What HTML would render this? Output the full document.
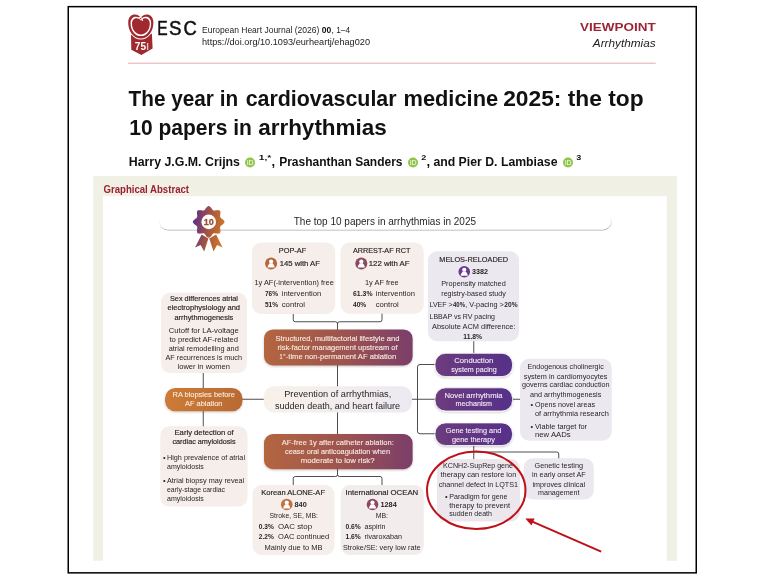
<!DOCTYPE html>
<html lang="en">
<head>
<meta charset="utf-8">
<title>The year in cardiovascular medicine 2025: the top 10 papers in arrhythmias</title>
<style>
html,body{margin:0;padding:0;background:#fff;}
body{width:768px;height:576px;position:relative;overflow:hidden;font-family:"Liberation Sans",sans-serif;color:#111;}
svg.fig{position:absolute;left:0;top:0;}
svg text{font-family:"Liberation Sans",sans-serif;}
</style>
</head>
<body>
<svg class="fig" width="768" height="576" viewBox="0 0 768 576">
<defs>
<linearGradient id="g1" x1="0" y1="0" x2="1" y2="0"><stop offset="0" stop-color="#b36640"/><stop offset="0.55" stop-color="#9c5350"/><stop offset="1" stop-color="#7b3e6a"/></linearGradient>
<linearGradient id="g2" x1="0" y1="0" x2="1" y2="0"><stop offset="0" stop-color="#cc7b37"/><stop offset="1" stop-color="#b96a33"/></linearGradient>
<linearGradient id="g3" x1="0" y1="0" x2="1" y2="0"><stop offset="0" stop-color="#f8f1ea"/><stop offset="1" stop-color="#ece9f1"/></linearGradient>
<linearGradient id="g4" x1="0" y1="0" x2="1" y2="0"><stop offset="0" stop-color="#6c3b7d"/><stop offset="1" stop-color="#563189"/></linearGradient>
<linearGradient id="gb" gradientUnits="userSpaceOnUse" x1="192" y1="222" x2="226" y2="228"><stop offset="0" stop-color="#5a2c92"/><stop offset="0.5" stop-color="#a4553f"/><stop offset="1" stop-color="#d47c28"/></linearGradient>
<filter id="sh" x="-5%" y="-50%" width="110%" height="220%"><feDropShadow dx="0.3" dy="1" stdDeviation="0.7" flood-color="#000" flood-opacity="0.33"/></filter>
<filter id="sh2" x="-10%" y="-30%" width="120%" height="170%"><feDropShadow dx="0" dy="1" stdDeviation="1" flood-color="#000" flood-opacity="0.22"/></filter>
</defs>
<path d="M131 34.6 L151.9 33.8 L152.6 48.6 L141.4 55.1 L131.3 49.8 Z" fill="#a0282f"/>
<path d="M140.80 17.85 C138.66 12.61 127.40 11.57 127.40 22.83 C127.40 31.74 133.03 39.60 140.80 39.60 C148.57 39.60 154.20 31.74 154.20 22.83 C154.20 11.57 142.94 12.61 140.80 17.85 Z" fill="#fff"/>
<path d="M140.80 18.18 C138.78 13.26 128.20 12.28 128.20 22.86 C128.20 31.22 133.49 38.60 140.80 38.60 C148.11 38.60 153.40 31.22 153.40 22.86 C153.40 12.28 142.82 13.26 140.80 18.18 Z" fill="#a0282f"/>
<path d="M140.85 19.67 C139.20 15.71 130.55 14.91 130.55 23.43 C130.55 30.16 134.88 36.10 140.85 36.10 C146.82 36.10 151.15 30.16 151.15 23.43 C151.15 14.91 142.50 15.71 140.85 19.67 Z" fill="#fff"/>
<path d="M140.90 20.56 C139.48 17.20 132.00 16.52 132.00 23.75 C132.00 29.46 135.74 34.50 140.90 34.50 C146.06 34.50 149.80 29.46 149.80 23.75 C149.80 16.52 142.32 17.20 140.90 20.56 Z" fill="#a0282f"/>
<path d="M139.0 17.4 Q141.6 16.6 142.4 19.4" fill="none" stroke="#fff" stroke-width="1.0" stroke-linecap="round"/>
<circle cx="142.3" cy="20.2" r="0.8" fill="#fff"/>
<text x="134.80" y="50.10" font-size="11.2" font-weight="bold" fill="#fff" textLength="11.20" lengthAdjust="spacingAndGlyphs">75</text>
<rect x="146.9" y="43" width="1.4" height="7" fill="#e3bfc1"/>
<text x="157.20" y="34.60" font-size="20.4" fill="#111" textLength="10.40" lengthAdjust="spacingAndGlyphs" stroke="#111" stroke-width="0.5">E</text>
<text x="169.00" y="34.60" font-size="20.4" fill="#111" textLength="12.50" lengthAdjust="spacingAndGlyphs" stroke="#111" stroke-width="0.5">S</text>
<text x="183.60" y="34.60" font-size="20.4" fill="#111" textLength="13.30" lengthAdjust="spacingAndGlyphs" stroke="#111" stroke-width="0.5">C</text>
<text x="202.00" y="33.00" font-size="8.3" fill="#222" textLength="117.25" lengthAdjust="spacingAndGlyphs">European Heart Journal (2026)</text>
<text x="321.75" y="33.00" font-size="8.3" font-weight="bold" fill="#111" textLength="9.50" lengthAdjust="spacingAndGlyphs">00</text>
<text x="331.60" y="33.00" font-size="8.3" fill="#222" textLength="18.40" lengthAdjust="spacingAndGlyphs">, 1–4</text>
<text x="202.00" y="44.50" font-size="8.3" fill="#222" textLength="168.00" lengthAdjust="spacingAndGlyphs">https://doi.org/10.1093/eurheartj/ehag020</text>
<text x="580.00" y="30.70" font-size="11.8" font-weight="bold" fill="#9b2335" textLength="75.70" lengthAdjust="spacingAndGlyphs">VIEWPOINT</text>
<text x="592.80" y="47.40" font-size="11.6" font-style="italic" fill="#222" textLength="62.90" lengthAdjust="spacingAndGlyphs">Arrhythmias</text>
<rect x="128" y="62.7" width="527.7" height="1" fill="#e2abae"/>
<text x="128.60" y="106.25" font-size="21.4" font-weight="bold" fill="#111" textLength="109.50" lengthAdjust="spacingAndGlyphs">The year in</text>
<text x="245.65" y="106.25" font-size="21.4" font-weight="bold" fill="#111" textLength="150.95" lengthAdjust="spacingAndGlyphs">cardiovascular</text>
<text x="403.50" y="106.25" font-size="21.4" font-weight="bold" fill="#111" textLength="94.60" lengthAdjust="spacingAndGlyphs">medicine</text>
<text x="503.15" y="106.25" font-size="21.4" font-weight="bold" fill="#111" textLength="140.45" lengthAdjust="spacingAndGlyphs">2025: the top</text>
<text x="129.20" y="135.40" font-size="21.4" font-weight="bold" fill="#111" textLength="122.65" lengthAdjust="spacingAndGlyphs">10 papers in</text>
<text x="258.15" y="135.40" font-size="21.4" font-weight="bold" fill="#111" textLength="128.70" lengthAdjust="spacingAndGlyphs">arrhythmias</text>
<text x="128.75" y="166.25" font-size="13" font-weight="bold" fill="#111" textLength="111.25" lengthAdjust="spacingAndGlyphs">Harry J.G.M. Crijns</text>
<circle cx="250" cy="162.5" r="5" fill="#8fc549"/>
<text x="246.90" y="165.00" font-size="7" fill="#fff" textLength="6.60" lengthAdjust="spacingAndGlyphs">iD</text>
<text x="258.75" y="160.40" font-size="8" font-weight="bold" fill="#111" textLength="12.50" lengthAdjust="spacingAndGlyphs">1,*</text>
<text x="271.60" y="166.25" font-size="13" font-weight="bold" fill="#111">,</text>
<text x="279.20" y="166.25" font-size="13" font-weight="bold" fill="#111" textLength="123.30" lengthAdjust="spacingAndGlyphs">Prashanthan Sanders</text>
<circle cx="413" cy="162.5" r="5" fill="#8fc549"/>
<text x="409.90" y="165.00" font-size="7" fill="#fff" textLength="6.60" lengthAdjust="spacingAndGlyphs">iD</text>
<text x="421.25" y="160.40" font-size="8" font-weight="bold" fill="#111" textLength="5.00" lengthAdjust="spacingAndGlyphs">2</text>
<text x="426.40" y="166.25" font-size="13" font-weight="bold" fill="#111">,</text>
<text x="433.40" y="166.25" font-size="13" font-weight="bold" fill="#111" textLength="124.10" lengthAdjust="spacingAndGlyphs">and Pier D. Lambiase</text>
<circle cx="568" cy="162.5" r="5" fill="#8fc549"/>
<text x="564.90" y="165.00" font-size="7" fill="#fff" textLength="6.60" lengthAdjust="spacingAndGlyphs">iD</text>
<text x="576.25" y="160.40" font-size="8" font-weight="bold" fill="#111" textLength="5.00" lengthAdjust="spacingAndGlyphs">3</text>
<rect x="68.25" y="6.65" width="628" height="566.2" fill="none" stroke="#000" stroke-width="1.5"/>
<rect x="93.25" y="176" width="583.75" height="384.75" fill="#f0f0e4"/>
<rect x="103" y="196.2" width="563.75" height="365" fill="#ffffff"/>
<text x="103.50" y="192.80" font-size="10.5" font-weight="bold" fill="#9c2030" textLength="85.50" lengthAdjust="spacingAndGlyphs">Graphical Abstract</text>
<rect x="159.5" y="213" width="451.5" height="16.5" rx="8.25" fill="#fff" filter="url(#sh)"/>
<text x="293.75" y="224.85" font-size="10.2" fill="#231f20" textLength="182.25" lengthAdjust="spacingAndGlyphs">The top 10 papers in arrhythmias in 2025</text>
<path d="M208.70 206.70 L209.19 206.89 L209.66 207.21 L210.11 207.61 L210.52 208.06 L210.91 208.54 L211.26 209.01 L211.60 209.46 L211.92 209.88 L212.23 210.26 L212.55 210.57 L212.87 210.82 L213.22 211.00 L213.59 211.11 L213.99 211.17 L214.44 211.17 L214.92 211.13 L215.44 211.06 L216.00 210.97 L216.59 210.89 L217.20 210.83 L217.81 210.80 L218.41 210.83 L218.97 210.94 L219.45 211.15 L219.66 211.63 L219.77 212.19 L219.80 212.79 L219.77 213.40 L219.71 214.01 L219.63 214.60 L219.54 215.16 L219.47 215.68 L219.43 216.16 L219.43 216.61 L219.49 217.01 L219.60 217.38 L219.78 217.73 L220.03 218.05 L220.34 218.37 L220.72 218.68 L221.14 219.00 L221.59 219.34 L222.06 219.69 L222.54 220.08 L222.99 220.49 L223.39 220.94 L223.71 221.41 L223.90 221.90 L223.71 222.39 L223.39 222.86 L222.99 223.31 L222.54 223.72 L222.06 224.11 L221.59 224.46 L221.14 224.80 L220.72 225.12 L220.34 225.43 L220.03 225.75 L219.78 226.07 L219.60 226.42 L219.49 226.79 L219.43 227.19 L219.43 227.64 L219.47 228.12 L219.54 228.64 L219.63 229.20 L219.71 229.79 L219.77 230.40 L219.80 231.01 L219.77 231.61 L219.66 232.17 L219.45 232.65 L218.97 232.86 L218.41 232.97 L217.81 233.00 L217.20 232.97 L216.59 232.91 L216.00 232.83 L215.44 232.74 L214.92 232.67 L214.44 232.63 L213.99 232.63 L213.59 232.69 L213.22 232.80 L212.87 232.98 L212.55 233.23 L212.23 233.54 L211.92 233.92 L211.60 234.34 L211.26 234.79 L210.91 235.26 L210.52 235.74 L210.11 236.19 L209.66 236.59 L209.19 236.91 L208.70 237.10 L208.21 236.91 L207.74 236.59 L207.29 236.19 L206.88 235.74 L206.49 235.26 L206.14 234.79 L205.80 234.34 L205.48 233.92 L205.17 233.54 L204.85 233.23 L204.53 232.98 L204.18 232.80 L203.81 232.69 L203.41 232.63 L202.96 232.63 L202.48 232.67 L201.96 232.74 L201.40 232.83 L200.81 232.91 L200.20 232.97 L199.59 233.00 L198.99 232.97 L198.43 232.86 L197.95 232.65 L197.74 232.17 L197.63 231.61 L197.60 231.01 L197.63 230.40 L197.69 229.79 L197.77 229.20 L197.86 228.64 L197.93 228.12 L197.97 227.64 L197.97 227.19 L197.91 226.79 L197.80 226.42 L197.62 226.07 L197.37 225.75 L197.06 225.43 L196.68 225.12 L196.26 224.80 L195.81 224.46 L195.34 224.11 L194.86 223.72 L194.41 223.31 L194.01 222.86 L193.69 222.39 L193.50 221.90 L193.69 221.41 L194.01 220.94 L194.41 220.49 L194.86 220.08 L195.34 219.69 L195.81 219.34 L196.26 219.00 L196.68 218.68 L197.06 218.37 L197.37 218.05 L197.62 217.73 L197.80 217.38 L197.91 217.01 L197.97 216.61 L197.97 216.16 L197.93 215.68 L197.86 215.16 L197.77 214.60 L197.69 214.01 L197.63 213.40 L197.60 212.79 L197.63 212.19 L197.74 211.63 L197.95 211.15 L198.43 210.94 L198.99 210.83 L199.59 210.80 L200.20 210.83 L200.81 210.89 L201.40 210.97 L201.96 211.06 L202.48 211.13 L202.96 211.17 L203.41 211.17 L203.81 211.11 L204.18 211.00 L204.53 210.82 L204.85 210.57 L205.17 210.26 L205.48 209.88 L205.80 209.46 L206.14 209.01 L206.49 208.54 L206.88 208.06 L207.29 207.61 L207.74 207.21 L208.21 206.89 Z" fill="url(#gb)" stroke="url(#gb)" stroke-width="1.3" stroke-linejoin="round"/>
<path d="M201.6 234.6 L195.1 247.4 L200.6 245.0 L204.2 251.6 L208.4 238.6 Z" fill="url(#gb)"/>
<path d="M216.1 234.6 L222.6 247.4 L217.1 245.0 L213.5 251.6 L209.3 238.6 Z" fill="url(#gb)"/>
<circle cx="208.7" cy="221.9" r="7.3" fill="#fff"/>
<text x="203.80" y="224.70" font-size="8.7" font-weight="bold" fill="#9a5136" textLength="10.00" lengthAdjust="spacingAndGlyphs" stroke="#9a5136" stroke-width="0.3">10</text>
<path d="M293.25 313 V319.75 Q293.25 321.75 295.25 321.75 H335.5 Q337.5 321.75 337.5 323.75 Q337.5 321.75 339.5 321.75 H380 Q382 321.75 382 319.75 V313" fill="none" stroke="#3a3a3a" stroke-width="0.9" stroke-linejoin="round"/>
<path d="M337.5 323 V331" fill="none" stroke="#3a3a3a" stroke-width="0.9" stroke-linejoin="round"/>
<path d="M337.5 364 V388" fill="none" stroke="#3a3a3a" stroke-width="0.9" stroke-linejoin="round"/>
<path d="M337.5 411 V436" fill="none" stroke="#3a3a3a" stroke-width="0.9" stroke-linejoin="round"/>
<path d="M337.5 468 V474.5 Q337.5 476.5 335.5 476.5 H295.25 Q293.25 476.5 293.25 478.5 V486" fill="none" stroke="#3a3a3a" stroke-width="0.9" stroke-linejoin="round"/>
<path d="M337.5 474.5 Q337.5 476.5 339.5 476.5 H380 Q382 476.5 382 478.5 V486" fill="none" stroke="#3a3a3a" stroke-width="0.9" stroke-linejoin="round"/>
<path d="M203.25 372 V389" fill="none" stroke="#3a3a3a" stroke-width="0.9" stroke-linejoin="round"/>
<path d="M203.25 410 V427" fill="none" stroke="#3a3a3a" stroke-width="0.9" stroke-linejoin="round"/>
<path d="M241 399.25 H265" fill="none" stroke="#3a3a3a" stroke-width="0.9" stroke-linejoin="round"/>
<path d="M411 399.25 H436" fill="none" stroke="#3a3a3a" stroke-width="0.9" stroke-linejoin="round"/>
<path d="M436 364.5 H420 Q417.5 364.5 417.5 367 V431.25 Q417.5 433.75 420 433.75 H436" fill="none" stroke="#3a3a3a" stroke-width="0.9" stroke-linejoin="round"/>
<path d="M473.75 340 V355" fill="none" stroke="#3a3a3a" stroke-width="0.9" stroke-linejoin="round"/>
<path d="M511 399.25 H521" fill="none" stroke="#3a3a3a" stroke-width="0.9" stroke-linejoin="round"/>
<path d="M473.75 444 V460" fill="none" stroke="#3a3a3a" stroke-width="0.9" stroke-linejoin="round"/>
<path d="M473.75 452 H556.75 Q558.75 452 558.75 454 V459" fill="none" stroke="#3a3a3a" stroke-width="0.9" stroke-linejoin="round"/>
<rect x="252.0" y="242.4" width="83.20" height="71.50" rx="9" fill="#f6eeea"/>
<text x="278.75" y="253.30" font-size="7.8" fill="#231f20" textLength="27.50" lengthAdjust="spacingAndGlyphs" stroke="#231f20" stroke-width="0.17">POP-AF</text>
<g><circle cx="271.1" cy="263.5" r="6" fill="#b9653a"/><circle cx="271.1" cy="261.50" r="2.1" fill="#fff"/><path d="M267.60 267.40 C267.60 264.90 269.00 264.50 269.60 263.20 L272.60 263.20 C273.20 264.50 274.60 264.90 274.60 267.40 Z" fill="#fff"/></g>
<text x="279.70" y="266.10" font-size="7.8" fill="#231f20" textLength="40.30" lengthAdjust="spacingAndGlyphs" stroke="#231f20" stroke-width="0.17">145 with AF</text>
<text x="254.50" y="284.80" font-size="7.8" fill="#231f20" textLength="79.25" lengthAdjust="spacingAndGlyphs">1y AF(-intervention) free</text>
<text x="265.00" y="295.80" font-size="7.8" font-weight="bold" fill="#231f20" textLength="13.00" lengthAdjust="spacingAndGlyphs">76%</text>
<text x="281.75" y="295.80" font-size="7.8" fill="#231f20" textLength="39.50" lengthAdjust="spacingAndGlyphs">intervention</text>
<text x="265.00" y="307.30" font-size="7.8" font-weight="bold" fill="#231f20" textLength="13.00" lengthAdjust="spacingAndGlyphs">51%</text>
<text x="281.75" y="307.30" font-size="7.8" fill="#231f20" textLength="23.25" lengthAdjust="spacingAndGlyphs">control</text>
<rect x="340.5" y="242.5" width="83.25" height="71.25" rx="9" fill="#f6eeea"/>
<text x="353.00" y="253.30" font-size="7.8" fill="#231f20" textLength="57.50" lengthAdjust="spacingAndGlyphs" stroke="#231f20" stroke-width="0.17">ARREST-AF RCT</text>
<g><circle cx="361.3" cy="263.5" r="6" fill="#8b4a61"/><circle cx="361.3" cy="261.50" r="2.1" fill="#fff"/><path d="M357.80 267.40 C357.80 264.90 359.20 264.50 359.80 263.20 L362.80 263.20 C363.40 264.50 364.80 264.90 364.80 267.40 Z" fill="#fff"/></g>
<text x="368.75" y="266.10" font-size="7.8" fill="#231f20" textLength="40.75" lengthAdjust="spacingAndGlyphs" stroke="#231f20" stroke-width="0.17">122 with AF</text>
<text x="365.00" y="284.80" font-size="7.8" fill="#231f20" textLength="33.75" lengthAdjust="spacingAndGlyphs">1y AF free</text>
<text x="353.00" y="295.80" font-size="7.8" font-weight="bold" fill="#231f20" textLength="19.50" lengthAdjust="spacingAndGlyphs">61.3%</text>
<text x="375.75" y="295.80" font-size="7.8" fill="#231f20" textLength="39.25" lengthAdjust="spacingAndGlyphs">intervention</text>
<text x="353.00" y="307.30" font-size="7.8" font-weight="bold" fill="#231f20" textLength="13.25" lengthAdjust="spacingAndGlyphs">40%</text>
<text x="375.75" y="307.30" font-size="7.8" fill="#231f20" textLength="23.00" lengthAdjust="spacingAndGlyphs">control</text>
<rect x="428" y="251.25" width="91.00" height="90.00" rx="9" fill="#ece8ef"/>
<text x="439.25" y="262.05" font-size="7.8" fill="#231f20" textLength="68.75" lengthAdjust="spacingAndGlyphs" stroke="#231f20" stroke-width="0.17">MELOS-RELOADED</text>
<g><circle cx="464.25" cy="271.75" r="5.8" fill="#6b3a8c"/><circle cx="464.25" cy="269.75" r="2.1" fill="#fff"/><path d="M460.75 275.65 C460.75 273.15 462.15 272.75 462.75 271.45 L465.75 271.45 C466.35 272.75 467.75 273.15 467.75 275.65 Z" fill="#fff"/></g>
<text x="472.00" y="274.00" font-size="7.8" font-weight="bold" fill="#231f20" textLength="16.00" lengthAdjust="spacingAndGlyphs">3382</text>
<text x="441.25" y="285.90" font-size="7.8" fill="#231f20" textLength="64.50" lengthAdjust="spacingAndGlyphs">Propensity matched</text>
<text x="441.25" y="295.90" font-size="7.8" fill="#231f20" textLength="64.50" lengthAdjust="spacingAndGlyphs">registry-based study</text>
<text x="429.50" y="307.30" font-size="7.8" fill="#231f20" textLength="23.10" lengthAdjust="spacingAndGlyphs">LVEF &gt;</text>
<text x="453.00" y="307.30" font-size="7.8" font-weight="bold" fill="#231f20" textLength="12.00" lengthAdjust="spacingAndGlyphs">40%</text>
<text x="465.20" y="307.30" font-size="7.8" fill="#231f20" textLength="38.70" lengthAdjust="spacingAndGlyphs">, V-pacing &gt;</text>
<text x="504.30" y="307.30" font-size="7.8" font-weight="bold" fill="#231f20" textLength="13.20" lengthAdjust="spacingAndGlyphs">20%</text>
<text x="429.50" y="318.70" font-size="7.8" fill="#231f20" textLength="65.50" lengthAdjust="spacingAndGlyphs">LBBAP vs RV pacing</text>
<text x="432.00" y="329.40" font-size="7.8" fill="#231f20" textLength="83.50" lengthAdjust="spacingAndGlyphs">Absolute ACM difference:</text>
<text x="463.25" y="338.70" font-size="7.8" font-weight="bold" fill="#231f20" textLength="18.75" lengthAdjust="spacingAndGlyphs">11.8%</text>
<rect x="161" y="292.5" width="86.00" height="80.50" rx="9" fill="#f6eeea"/>
<text x="170.00" y="301.00" font-size="7.8" fill="#231f20" textLength="68.00" lengthAdjust="spacingAndGlyphs" stroke="#231f20" stroke-width="0.17">Sex differences atrial</text>
<text x="167.50" y="310.40" font-size="7.8" fill="#231f20" textLength="72.50" lengthAdjust="spacingAndGlyphs" stroke="#231f20" stroke-width="0.17">electrophysiology and</text>
<text x="174.50" y="320.30" font-size="7.8" fill="#231f20" textLength="58.75" lengthAdjust="spacingAndGlyphs" stroke="#231f20" stroke-width="0.17">arrhythmogenesis</text>
<text x="168.75" y="333.30" font-size="7.8" fill="#231f20" textLength="70.00" lengthAdjust="spacingAndGlyphs">Cutoff for LA-voltage</text>
<text x="169.50" y="342.30" font-size="7.8" fill="#231f20" textLength="68.50" lengthAdjust="spacingAndGlyphs">to predict AF-related</text>
<text x="168.75" y="350.80" font-size="7.8" fill="#231f20" textLength="70.00" lengthAdjust="spacingAndGlyphs">atrial remodelling and</text>
<text x="165.50" y="360.30" font-size="7.8" fill="#231f20" textLength="76.50" lengthAdjust="spacingAndGlyphs">AF recurrences is much</text>
<text x="177.50" y="369.00" font-size="7.8" fill="#231f20" textLength="52.50" lengthAdjust="spacingAndGlyphs">lower in women</text>
<rect x="264.0" y="329.4" width="148.60" height="36.10" rx="9" fill="url(#g1)" filter="url(#sh2)"/>
<text x="275.50" y="341.00" font-size="7.8" fill="#f7eadf" textLength="124.00" lengthAdjust="spacingAndGlyphs" stroke="#f7eadf" stroke-width="0.12">Structured, multifactorial lifestyle and</text>
<text x="277.50" y="350.30" font-size="7.8" fill="#f7eadf" textLength="120.00" lengthAdjust="spacingAndGlyphs" stroke="#f7eadf" stroke-width="0.12">risk-factor management upstream of</text>
<text x="279.50" y="359.00" font-size="7.8" fill="#f7eadf" textLength="3.10" lengthAdjust="spacingAndGlyphs" stroke="#f7eadf" stroke-width="0.12">1</text>
<text x="282.70" y="355.50" font-size="4.2" fill="#f7eadf" textLength="2.90" lengthAdjust="spacingAndGlyphs">st</text>
<text x="285.80" y="359.00" font-size="7.8" fill="#f7eadf" textLength="110.45" lengthAdjust="spacingAndGlyphs" stroke="#f7eadf" stroke-width="0.12">-time non-permanent AF ablation</text>
<rect x="165" y="388" width="77.50" height="23.25" rx="10.5" fill="url(#g2)" filter="url(#sh2)"/>
<text x="172.50" y="397.30" font-size="7.8" fill="#fbeee0" textLength="62.50" lengthAdjust="spacingAndGlyphs" stroke="#fbeee0" stroke-width="0.1">RA biopsies before</text>
<text x="185.00" y="406.30" font-size="7.8" fill="#fbeee0" textLength="37.50" lengthAdjust="spacingAndGlyphs" stroke="#fbeee0" stroke-width="0.1">AF ablation</text>
<rect x="263.75" y="386.25" width="148.25" height="26.25" rx="10" fill="url(#g3)"/>
<text x="284.25" y="397.05" font-size="9.6" fill="#231f20" textLength="107.00" lengthAdjust="spacingAndGlyphs">Prevention of arrhythmias,</text>
<text x="275.00" y="408.80" font-size="9.6" fill="#231f20" textLength="125.00" lengthAdjust="spacingAndGlyphs">sudden death, and heart failure</text>
<rect x="160.3" y="426.25" width="87.20" height="80.35" rx="9" fill="#f6eeea"/>
<text x="174.50" y="435.40" font-size="7.8" fill="#231f20" textLength="59.25" lengthAdjust="spacingAndGlyphs" stroke="#231f20" stroke-width="0.17">Early detection of</text>
<text x="172.50" y="444.40" font-size="7.8" fill="#231f20" textLength="63.00" lengthAdjust="spacingAndGlyphs" stroke="#231f20" stroke-width="0.17">cardiac amyloidosis</text>
<text x="163.00" y="460.30" font-size="7.8" fill="#231f20" textLength="2.60" lengthAdjust="spacingAndGlyphs">•</text>
<text x="167.00" y="460.30" font-size="7.8" fill="#231f20" textLength="78.00" lengthAdjust="spacingAndGlyphs">High prevalence of atrial</text>
<text x="167.00" y="469.00" font-size="7.8" fill="#231f20" textLength="36.75" lengthAdjust="spacingAndGlyphs">amyloidosis</text>
<text x="163.00" y="483.00" font-size="7.8" fill="#231f20" textLength="2.60" lengthAdjust="spacingAndGlyphs">•</text>
<text x="167.00" y="483.00" font-size="7.8" fill="#231f20" textLength="77.25" lengthAdjust="spacingAndGlyphs">Atrial biopsy may reveal</text>
<text x="167.00" y="492.30" font-size="7.8" fill="#231f20" textLength="58.00" lengthAdjust="spacingAndGlyphs">early-stage cardiac</text>
<text x="167.00" y="501.30" font-size="7.8" fill="#231f20" textLength="36.75" lengthAdjust="spacingAndGlyphs">amyloidosis</text>
<rect x="264.0" y="434.1" width="148.60" height="35.10" rx="9" fill="url(#g1)" filter="url(#sh2)"/>
<text x="281.75" y="444.90" font-size="7.8" fill="#f7eadf" textLength="112.00" lengthAdjust="spacingAndGlyphs" stroke="#f7eadf" stroke-width="0.12">AF-free 1y after catheter ablation:</text>
<text x="285.00" y="454.00" font-size="7.8" fill="#f7eadf" textLength="105.00" lengthAdjust="spacingAndGlyphs" stroke="#f7eadf" stroke-width="0.12">cease oral anticoagulation when</text>
<text x="300.75" y="462.90" font-size="7.8" fill="#f7eadf" textLength="73.75" lengthAdjust="spacingAndGlyphs" stroke="#f7eadf" stroke-width="0.12">moderate to low risk?</text>
<rect x="252.5" y="485" width="82.00" height="70.00" rx="9" fill="#f6eeea"/>
<text x="261.25" y="495.30" font-size="7.8" fill="#231f20" textLength="63.75" lengthAdjust="spacingAndGlyphs" stroke="#231f20" stroke-width="0.17">Korean ALONE-AF</text>
<g><circle cx="286.75" cy="504.5" r="5.8" fill="#c07042"/><circle cx="286.75" cy="502.50" r="2.1" fill="#fff"/><path d="M283.25 508.40 C283.25 505.90 284.65 505.50 285.25 504.20 L288.25 504.20 C288.85 505.50 290.25 505.90 290.25 508.40 Z" fill="#fff"/></g>
<text x="294.50" y="507.30" font-size="7.8" font-weight="bold" fill="#231f20" textLength="12.25" lengthAdjust="spacingAndGlyphs">840</text>
<text x="269.50" y="518.30" font-size="7.8" fill="#231f20" textLength="48.50" lengthAdjust="spacingAndGlyphs">Stroke, SE, MB:</text>
<text x="258.75" y="529.40" font-size="7.8" font-weight="bold" fill="#231f20" textLength="15.00" lengthAdjust="spacingAndGlyphs">0.3%</text>
<text x="278.00" y="529.40" font-size="7.8" fill="#231f20" textLength="34.00" lengthAdjust="spacingAndGlyphs">OAC stop</text>
<text x="258.75" y="539.40" font-size="7.8" font-weight="bold" fill="#231f20" textLength="15.00" lengthAdjust="spacingAndGlyphs">2.2%</text>
<text x="278.00" y="539.40" font-size="7.8" fill="#231f20" textLength="51.25" lengthAdjust="spacingAndGlyphs">OAC continued</text>
<text x="264.50" y="549.90" font-size="7.8" fill="#231f20" textLength="58.00" lengthAdjust="spacingAndGlyphs">Mainly due to MB</text>
<rect x="340.75" y="485" width="83.00" height="70.00" rx="9" fill="#f3ecec"/>
<text x="345.50" y="495.30" font-size="7.8" fill="#231f20" textLength="72.75" lengthAdjust="spacingAndGlyphs" stroke="#231f20" stroke-width="0.17">International OCEAN</text>
<g><circle cx="372.5" cy="504.5" r="5.8" fill="#8c4a62"/><circle cx="372.5" cy="502.50" r="2.1" fill="#fff"/><path d="M369.00 508.40 C369.00 505.90 370.40 505.50 371.00 504.20 L374.00 504.20 C374.60 505.50 376.00 505.90 376.00 508.40 Z" fill="#fff"/></g>
<text x="380.50" y="507.30" font-size="7.8" font-weight="bold" fill="#231f20" textLength="16.25" lengthAdjust="spacingAndGlyphs">1284</text>
<text x="375.75" y="518.30" font-size="7.8" fill="#231f20" textLength="12.25" lengthAdjust="spacingAndGlyphs">MB:</text>
<text x="345.50" y="529.40" font-size="7.8" font-weight="bold" fill="#231f20" textLength="15.25" lengthAdjust="spacingAndGlyphs">0.6%</text>
<text x="364.50" y="529.40" font-size="7.8" fill="#231f20" textLength="21.00" lengthAdjust="spacingAndGlyphs">aspirin</text>
<text x="345.50" y="539.40" font-size="7.8" font-weight="bold" fill="#231f20" textLength="15.25" lengthAdjust="spacingAndGlyphs">1.6%</text>
<text x="364.50" y="539.40" font-size="7.8" fill="#231f20" textLength="37.50" lengthAdjust="spacingAndGlyphs">rivaroxaban</text>
<text x="343.00" y="549.90" font-size="7.8" fill="#231f20" textLength="77.50" lengthAdjust="spacingAndGlyphs">Stroke/SE: very low rate</text>
<rect x="435" y="353.3" width="77.50" height="23.30" rx="10.5" fill="url(#g4)" stroke="#fff" stroke-width="0.8" filter="url(#sh2)"/>
<text x="454.25" y="362.80" font-size="7.8" fill="#f3ebf7" textLength="39.00" lengthAdjust="spacingAndGlyphs" stroke="#f3ebf7" stroke-width="0.12">Conduction</text>
<text x="451.25" y="372.05" font-size="7.8" fill="#f3ebf7" textLength="45.50" lengthAdjust="spacingAndGlyphs" stroke="#f3ebf7" stroke-width="0.12">system pacing</text>
<rect x="435" y="387.8" width="77.50" height="23.20" rx="10.5" fill="url(#g4)" stroke="#fff" stroke-width="0.8" filter="url(#sh2)"/>
<text x="444.50" y="397.80" font-size="7.8" fill="#f3ebf7" textLength="58.00" lengthAdjust="spacingAndGlyphs" stroke="#f3ebf7" stroke-width="0.12">Novel arrhythmia</text>
<text x="455.50" y="406.30" font-size="7.8" fill="#f3ebf7" textLength="36.50" lengthAdjust="spacingAndGlyphs" stroke="#f3ebf7" stroke-width="0.12">mechanism</text>
<rect x="435" y="422.9" width="77.50" height="22.60" rx="10.5" fill="url(#g4)" stroke="#fff" stroke-width="0.8" filter="url(#sh2)"/>
<text x="445.75" y="432.80" font-size="7.8" fill="#f3ebf7" textLength="55.50" lengthAdjust="spacingAndGlyphs" stroke="#f3ebf7" stroke-width="0.12">Gene testing and</text>
<text x="452.00" y="441.55" font-size="7.8" fill="#f3ebf7" textLength="43.00" lengthAdjust="spacingAndGlyphs" stroke="#f3ebf7" stroke-width="0.12">gene therapy</text>
<rect x="520" y="358.75" width="91.75" height="82.00" rx="9" fill="#ece8ef"/>
<text x="527.50" y="369.30" font-size="7.8" fill="#231f20" textLength="76.25" lengthAdjust="spacingAndGlyphs">Endogenous cholinergic</text>
<text x="523.75" y="378.55" font-size="7.8" fill="#231f20" textLength="83.75" lengthAdjust="spacingAndGlyphs">system in cardiomyocytes</text>
<text x="522.00" y="387.30" font-size="7.8" fill="#231f20" textLength="87.50" lengthAdjust="spacingAndGlyphs">governs cardiac conduction</text>
<text x="530.00" y="396.55" font-size="7.8" fill="#231f20" textLength="71.25" lengthAdjust="spacingAndGlyphs">and arrhythmogenesis</text>
<text x="530.60" y="407.30" font-size="7.8" fill="#231f20" textLength="2.60" lengthAdjust="spacingAndGlyphs">•</text>
<text x="535.00" y="407.30" font-size="7.8" fill="#231f20" textLength="60.00" lengthAdjust="spacingAndGlyphs">Opens novel areas</text>
<text x="535.00" y="416.05" font-size="7.8" fill="#231f20" textLength="73.75" lengthAdjust="spacingAndGlyphs">of arrhythmia research</text>
<text x="530.60" y="428.55" font-size="7.8" fill="#231f20" textLength="2.60" lengthAdjust="spacingAndGlyphs">•</text>
<text x="535.00" y="428.55" font-size="7.8" fill="#231f20" textLength="52.00" lengthAdjust="spacingAndGlyphs">Viable target for</text>
<text x="535.00" y="437.30" font-size="7.8" fill="#231f20" textLength="35.75" lengthAdjust="spacingAndGlyphs">new AADs</text>
<rect x="437" y="459" width="83.00" height="62.50" rx="9" fill="#ebe7ec"/>
<text x="443.00" y="467.55" font-size="7.8" fill="#231f20" textLength="70.00" lengthAdjust="spacingAndGlyphs">KCNH2-SupRep gene</text>
<text x="440.50" y="477.30" font-size="7.8" fill="#231f20" textLength="75.75" lengthAdjust="spacingAndGlyphs">therapy can restore ion</text>
<text x="438.75" y="486.55" font-size="7.8" fill="#231f20" textLength="79.25" lengthAdjust="spacingAndGlyphs">channel defect in LQTS1</text>
<text x="445.00" y="498.55" font-size="7.8" fill="#231f20" textLength="2.60" lengthAdjust="spacingAndGlyphs">•</text>
<text x="449.25" y="498.55" font-size="7.8" fill="#231f20" textLength="58.25" lengthAdjust="spacingAndGlyphs">Paradigm for gene</text>
<text x="449.25" y="507.55" font-size="7.8" fill="#231f20" textLength="60.75" lengthAdjust="spacingAndGlyphs">therapy to prevent</text>
<text x="449.25" y="516.30" font-size="7.8" fill="#231f20" textLength="42.75" lengthAdjust="spacingAndGlyphs">sudden death</text>
<rect x="523.75" y="458.25" width="70.00" height="41.25" rx="9" fill="#ece8ef"/>
<text x="534.50" y="467.55" font-size="7.8" fill="#231f20" textLength="48.50" lengthAdjust="spacingAndGlyphs">Genetic testing</text>
<text x="532.00" y="477.30" font-size="7.8" fill="#231f20" textLength="53.75" lengthAdjust="spacingAndGlyphs">in early onset AF</text>
<text x="532.50" y="486.55" font-size="7.8" fill="#231f20" textLength="52.50" lengthAdjust="spacingAndGlyphs">improves clinical</text>
<text x="538.00" y="495.05" font-size="7.8" fill="#231f20" textLength="41.50" lengthAdjust="spacingAndGlyphs">management</text>
<ellipse cx="476.25" cy="490.25" rx="49.25" ry="38.75" fill="none" stroke="#bf1018" stroke-width="2.0"/>
<path d="M601.2 551.7 L530 520.6" stroke="#bf1018" stroke-width="2.0" fill="none"/>
<path d="M525.3 518.5 L534.6 518.5 L531.5 525.6 Z" fill="#bf1018"/>
</svg>
</body>
</html>
